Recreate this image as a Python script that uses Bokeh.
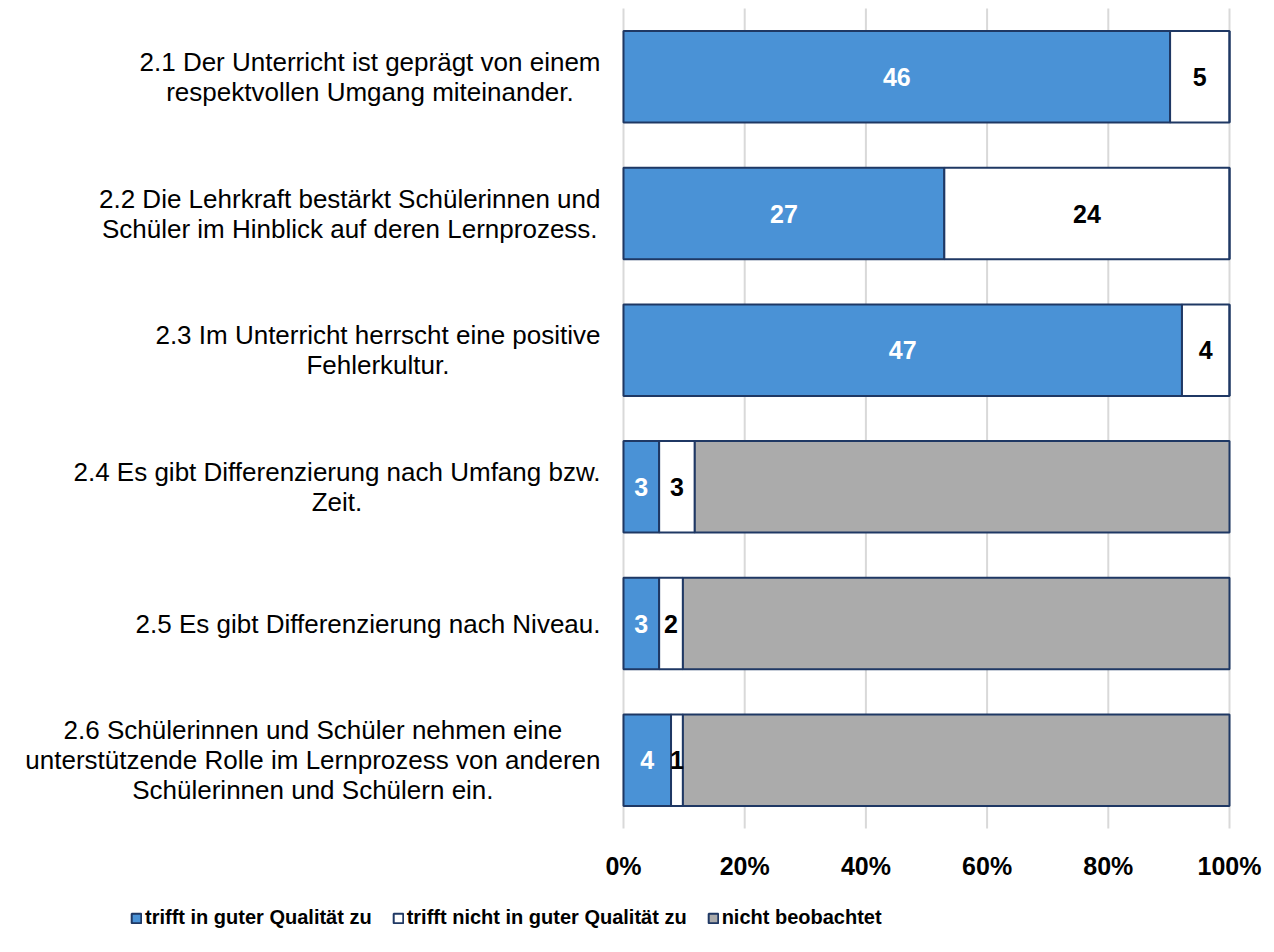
from bokeh.plotting import figure
from bokeh.models import Range1d, Legend, LegendItem, ColumnDataSource
from bokeh.core.properties import value
from bokeh.embed import file_html
from bokeh.resources import INLINE
import numpy as np

# ---------------- data ----------------
keys = ["2.1", "2.2", "2.3", "2.4", "2.5", "2.6"]
category_texts = [
    "2.1 Der Unterricht ist geprägt von einem\nrespektvollen Umgang miteinander.",
    "2.2 Die Lehrkraft bestärkt Schülerinnen und\nSchüler im Hinblick auf deren Lernprozess.",
    "2.3 Im Unterricht herrscht eine positive\nFehlerkultur.",
    "2.4 Es gibt Differenzierung nach Umfang bzw.\nZeit.",
    "2.5 Es gibt Differenzierung nach Niveau.",
    "2.6 Schülerinnen und Schüler nehmen eine\nunterstützende Rolle im Lernprozess von anderen\nSchülerinnen und Schülern ein.",
]
good = [46, 27, 47, 3, 3, 4]
not_good = [5, 24, 4, 3, 2, 1]
not_observed = [0, 0, 0, 45, 46, 46]
series_names = ["trifft in guter Qualität zu",
                "trifft nicht in guter Qualität zu",
                "nicht beobachtet"]
x_ticks = [0, 0.2, 0.4, 0.6, 0.8, 1.0]
x_tick_labels = ["0%", "20%", "40%", "60%", "80%", "100%"]

# ---------------- styles / layout (pixels) ----------------
colors = ["#4A92D6", "#FFFFFF", "#ABABAB"]
edge = "#1F3864"
grid_color = "#D9D9D9"
FONT = "Liberation Sans"
W, H = 1266, 936
PX0, PX1 = 623, 1229           # pixel x of 0 % and 100 %
TOP, BOTTOM = 8, 828            # pixel y extent of the category band
TICK_Y = 865                    # pixel y of tick-label centres
LEGEND_BOTTOM = 929             # pixel y of legend bottom
LEGEND_LEFT = 130

n = len(keys)
ppx = (PX1 - PX0)
ppy = (BOTTOM - TOP) / n
x_start, x_end = -PX0 / ppx, 1 + (W - PX1) / ppx
y_start, y_end = -(H - BOTTOM) / ppy, n + TOP / ppy

g = np.array(good, float)
ng = np.array(not_good, float)
no = np.array(not_observed, float)
tot = g + ng + no
ypos = n - np.arange(n) - 0.5   # first category on top

src = ColumnDataSource(dict(y=ypos, s_good=g / tot, s_ng=ng / tot, s_no=no / tot))

p = figure(width=W, height=H,
           x_range=Range1d(x_start, x_end), y_range=Range1d(y_start, y_end),
           output_backend="svg", toolbar_location=None, min_border=0,
           x_axis_type=None, y_axis_type=None)
p.outline_line_color = None
p.background_fill_color = "white"
p.xgrid.visible = False
p.ygrid.visible = False

# vertical grid lines over the category band
p.segment(x0=x_ticks, x1=x_ticks, y0=[0] * len(x_ticks), y1=[n] * len(x_ticks),
          line_color=grid_color, line_width=2)

renderers = p.hbar_stack(["s_good", "s_ng", "s_no"], y="y", height=0.67,
                         source=src, fill_color=colors, line_color=edge,
                         line_width=2)

# data labels
lab_x, lab_y, lab_t, lab_c = [], [], [], []
for i in range(n):
    sg = g[i] / tot[i]
    sn = ng[i] / tot[i]
    if g[i] > 0:
        lab_x.append(sg / 2); lab_y.append(ypos[i]); lab_t.append(str(good[i])); lab_c.append("white")
    if ng[i] > 0:
        lab_x.append(sg + sn / 2); lab_y.append(ypos[i]); lab_t.append(str(not_good[i])); lab_c.append("black")
lsrc = ColumnDataSource(dict(x=lab_x, y=lab_y, t=lab_t, c=lab_c))
p.text(x="x", y="y", text="t", source=lsrc, text_color="c",
       text_align="center", text_baseline="middle",
       text_font=value(FONT), text_font_style="bold", text_font_size="25px")

# category labels: right-anchored blocks, lines centred
csrc = ColumnDataSource(dict(x=[0] * n, y=ypos, t=category_texts))
p.text(x="x", y="y", text="t", source=csrc, x_offset=-23,
       anchor="center_right", text_align="center", text_baseline="middle",
       text_font=value(FONT), text_font_size="26px", text_color="black",
       text_line_height=1.0)

# x tick labels (value axis)
tsrc = ColumnDataSource(dict(x=x_ticks, y=[-(TICK_Y - BOTTOM) / ppy] * len(x_ticks),
                             t=x_tick_labels))
p.text(x="x", y="y", text="t", source=tsrc, text_align="center",
       text_baseline="middle", text_font=value(FONT), text_font_style="bold",
       text_font_size="25px", text_color="black")

legend = Legend(items=[LegendItem(label=nm, renderers=[r]) for nm, r in zip(series_names, renderers)],
                orientation="horizontal", location=(LEGEND_LEFT, H - LEGEND_BOTTOM),
                glyph_width=12, glyph_height=12,
                label_text_font=FONT, label_text_font_style="bold",
                label_text_font_size="20px", label_text_color="black",
                label_standoff=3, spacing=20,
                padding=0, margin=0, border_line_color=None,
                background_fill_alpha=0)
p.add_layout(legend)

open("out.html", "w").write(file_html(p, INLINE))
